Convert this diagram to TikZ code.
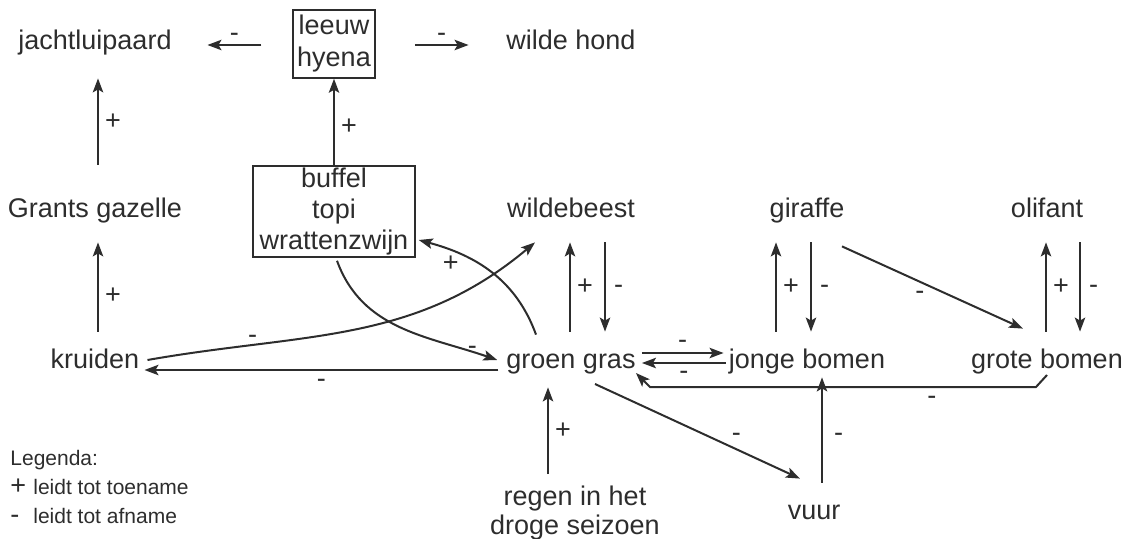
\documentclass[tikz,border=0pt]{standalone}
\usepackage{fontspec}
\setmainfont{Liberation Sans}
\usepackage{tikz}
\usetikzlibrary{arrows.meta,positioning,calc}
\definecolor{dgrijs}{RGB}{45,45,45}
\newcommand{\diafont}{\fontsize{13.5}{16}\selectfont}
\newcommand{\legfont}{\fontsize{10.5}{12}\selectfont}
\tikzstyle{pijl} = [line width=1pt, -{Stealth[length=7pt,width=5.2pt,inset=1.5pt]}, color=dgrijs]
\tikzstyle{soort} = [inner xsep=0pt, inner ysep=0pt, text height=9pt, text depth=3pt, minimum height=30pt, font=\diafont, text=dgrijs]
\tikzstyle{groep} = [rectangle, draw=dgrijs, line width=0.75pt, align=center, inner sep=0pt, font=\diafont, text=dgrijs]
\tikzstyle{toename} = [inner sep=0pt, text height=7.9pt, text depth=0pt, font=\diafont, text=dgrijs]
\tikzstyle{afname} = [inner sep=0pt, text height=6.5pt, text depth=0pt, font=\diafont, text=dgrijs]
\tikzstyle{legenda} = [anchor=west, inner sep=0pt, text height=7pt, text depth=2pt, font=\legfont, text=dgrijs]

\begin{document}
\begin{tikzpicture}[x=0.5pt, y=-0.5pt]
\useasboundingbox (0,0) rectangle (1133,539);

% roofdieren
\node[soort] (jl) at (95,44) {jachtluipaard};
\node[groep, minimum width=41pt, minimum height=34pt] (lh) at (334,44) {leeuw\\hyena};
\node[soort] (wh) at (571,44) {wilde hond};

% grazers en bladeters
\node[soort] (gz) at (95,212) {Grants gazelle};
\node[groep, minimum width=81pt, minimum height=45.5pt, font=\fontsize{13.5}{15.5}\selectfont] (bt) at (334,211.5) {buffel\\topi\\wrattenzwijn};
\node[soort] (wb) at (571,212) {wildebeest};
\node[soort] (gi) at (807,212) {giraffe};
\node[soort] (ol) at (1047,212) {olifant};

% planten
\node[soort] (kr) at (95,362) {kruiden};
\node[soort] (gr) at (571,362) {groen gras};
\node[soort] (jb) at (807,362) {jonge bomen};
\node[soort] (gb) at (1047,362) {grote bomen};

% regen en vuur
\node[groep, draw=none, font=\fontsize{13.5}{14.5}\selectfont] (rg) at (575,513) {regen in het\\droge seizoen};
\node[soort] (vu) at (814,513) {vuur};

% legenda
\node[legenda] (leg) at (10,460) {Legenda:};
\node[legenda] (leg1) at (10,489) {\makebox[11.5pt][l]{\diafont+}leidt tot toename};
\node[legenda] (leg2) at (10,518) {\makebox[11.5pt][l]{\diafont-}leidt tot afname};

% pijlen boven
\draw[pijl] ([xshift=-15.5pt,yshift=-0.5pt]lh.west) -- node[afname, above=1.25pt] {-} ([xshift=17.75pt,yshift=-0.5pt]jl.east);
\draw[pijl] ([xshift=19.5pt,yshift=-0.5pt]lh.east) -- node[afname, above=1.25pt] {-} ([xshift=-18.75pt,yshift=-0.5pt]wh.west);
\draw[pijl] (bt) -- node[toename, right=3pt, pos=0.45] {+} (lh);
\draw[pijl] ([xshift=1.5pt,yshift=8.5pt]gz.north) -- node[toename, right=3pt] {+} ([xshift=1.5pt,yshift=-2pt]jl.south);
\draw[pijl] ([xshift=1.5pt]kr.north) -- node[toename, right=3pt, pos=0.4] {+} ([xshift=1.5pt]gz.south);

% kruiden en gras
\draw[pijl] ([xshift=-3.9pt,yshift=-4pt]gr.west) -- node[afname, below=1.8pt] {-} ([xshift=2.4pt,yshift=-4pt]kr.east);
\draw[pijl] ([xshift=3.9pt,yshift=1pt]kr.east) to[out=10, in=220] node[afname, pos=0.24, above] {-} ([xshift=-18pt]wb.south);
\draw[pijl] ([xshift=1.5pt,yshift=-1.5pt]bt.south) to[out=-70, in=161] node[afname, pos=0.88, yshift=2pt] {-} ([xshift=-4.4pt,yshift=1pt]gr.west);
\draw[pijl] ([xshift=-17.5pt,yshift=-1.5pt]gr.north) to[out=110, in=-15] node[toename, pos=0.8, below=2pt] {+} ([xshift=1.5pt,yshift=-14.25pt]bt.east);

% verticale paren
\draw[pijl] ([xshift=-0.5pt]gr.north) -- node[toename, right=3pt] {+} ([xshift=-0.5pt]wb.south);
\draw[pijl] ([xshift=17pt]wb.south) -- node[afname, right=4pt] {-} ([xshift=17pt]gr.north);
\draw[pijl] ([xshift=-15.5pt]jb.north) -- node[toename, right=3pt] {+} ([xshift=-15.5pt]gi.south);
\draw[pijl] ([xshift=2pt]gi.south) -- node[afname, right=4pt] {-} ([xshift=2pt]jb.north);
\draw[pijl] ([xshift=-0.5pt]gb.north) -- node[toename, right=3pt] {+} ([xshift=-0.5pt]ol.south);
\draw[pijl] ([xshift=16.5pt]ol.south) -- node[afname, right=4pt] {-} ([xshift=16.5pt]gb.north);

% gras en bomen
\draw[pijl] ([xshift=2.9pt,yshift=4.5pt]gr.east) -- node[afname, above=1.75pt] {-} ([xshift=-2.5pt,yshift=4.5pt]jb.west);
\draw[pijl] ([xshift=-1.5pt,yshift=-0.5pt]jb.west) -- node[afname, below=1.3pt] {-} ([xshift=3pt,yshift=-0.5pt]gr.east);
\draw[pijl] ([xshift=17.5pt,yshift=-2pt]gi.south) -- node[afname, pos=0.43, below=2.1pt] {-} ([xshift=-12pt,yshift=1.5pt]gb.north);
\draw[pijl] ([yshift=-6.5pt]gb.center) -- ++(-11,12) -- node[afname, pos=0.27, below=1.8pt] {-} ($(gr.east)+(14,25)$) -- ([yshift=-5.5pt]gr.east);

% vuur en regen
\draw[pijl] ([xshift=4pt]vu.north) -- node[afname, pos=0.45, right=5.5pt] {-} ([xshift=4pt,yshift=7.5pt]vu.north |- jb.south);
\draw[pijl] ([xshift=12pt,yshift=-11pt]gr.center) -- node[afname, pos=0.69, yshift=7pt] {-} ([xshift=-7pt,yshift=2pt]vu.north);
\draw[pijl] ([xshift=-13.5pt,yshift=5.5pt]rg.north) -- node[toename, right=3pt] {+} ([xshift=-13.5pt,yshift=2.5pt]rg.north |- gr.south);
\end{tikzpicture}
\end{document}
